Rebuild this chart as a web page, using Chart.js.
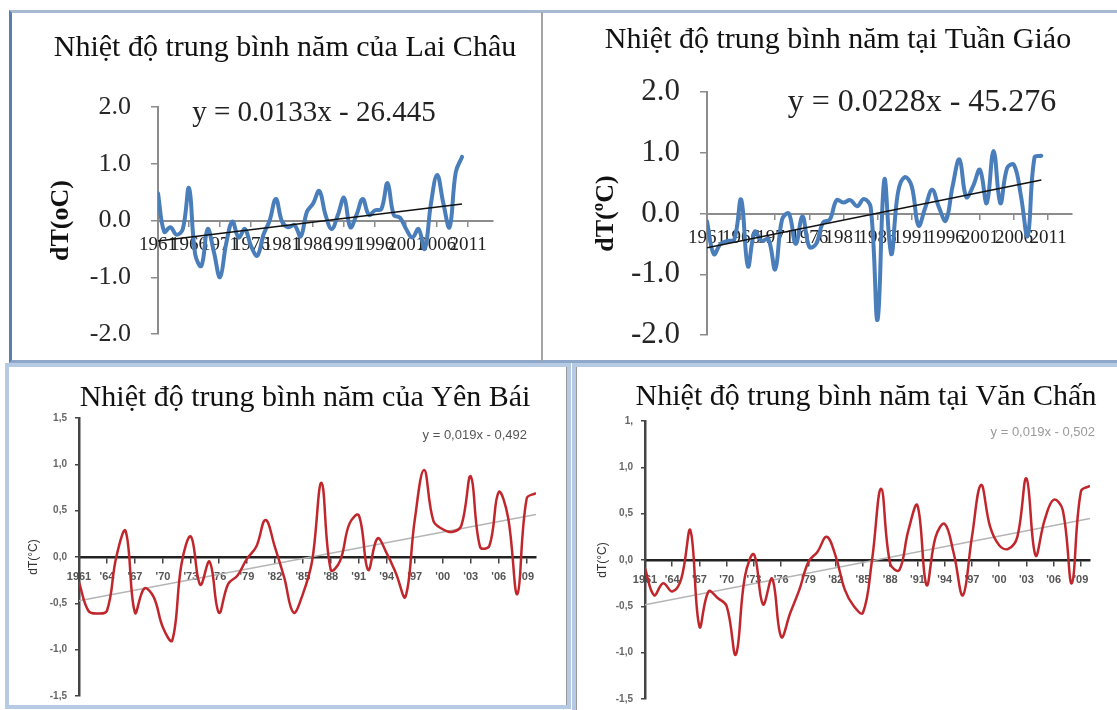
<!DOCTYPE html>
<html><head><meta charset="utf-8">
<script src="https://cdn.jsdelivr.net/npm/chart.js@4.4.1/dist/chart.umd.min.js"></script>
<style>
html,body{margin:0;padding:0;background:#fff;width:1117px;height:710px;overflow:hidden;position:relative;}
.box{position:absolute;box-sizing:border-box;}
canvas{position:absolute;}
</style></head><body>
<div class="box" style="left:9px;top:10px;width:1115px;height:353px;border-left:3px solid #5a7fb5;border-top:3px solid #a8b9d2;border-bottom:3px solid #8fa7c9;"></div>
<div class="box" style="left:541px;top:12px;width:2px;height:349px;background:#a5a5a5;"></div>
<div class="box" style="left:5px;top:363px;width:566px;height:346px;border:4px solid #b6cae3;box-shadow:inset -1px 0 0 #9a9a9a;"></div>
<div class="box" style="left:572px;top:363px;width:560px;height:352px;border:4px solid #b6cae3;box-shadow:inset 1px 0 0 #9a9a9a;"></div>
<canvas id="c1" width="529" height="348" style="left:12px;top:13px"></canvas>
<canvas id="c2" width="574" height="348" style="left:543px;top:13px"></canvas>
<canvas id="c3" width="555" height="340" style="left:10px;top:368px"></canvas>
<canvas id="c4" width="540" height="342" style="left:577px;top:368px"></canvas>
<script>
// ---------- data ----------
const years = [1961,1962,1963,1964,1965,1966,1967,1968,1969,1970,1971,1972,1973,1974,1975,1976,1977,1978,1979,1980,1981,1982,1983,1984,1985,1986,1987,1988,1989,1990,1991,1992,1993,1994,1995,1996,1997,1998,1999,2000,2001,2002,2003,2004,2005,2006,2007,2008,2009,2010];

const laiChau = [0.48,-0.2,-0.12,-0.25,-0.15,0.57,-0.6,-0.8,-0.15,-0.55,-1.0,-0.4,-0.02,-0.3,-0.15,-0.45,-0.62,-0.25,0.0,0.38,-0.02,-0.12,-0.08,-0.28,0.15,0.3,0.52,0.1,-0.15,0.1,0.4,-0.12,0.1,0.38,0.1,0.18,0.2,0.66,0.1,0.05,-0.15,-0.3,-0.15,-0.5,0.3,0.8,0.3,-0.12,0.85,1.12];
const tuanGiao = [-0.13,-0.67,-0.5,-0.45,-0.43,0.23,-0.87,-0.3,-0.45,-0.42,-0.92,-0.1,0.0,-0.5,-0.05,-0.55,-0.5,-0.15,-0.1,0.22,0.18,0.22,0.12,0.24,0.1,-1.75,0.56,-0.67,0.35,0.6,0.45,-0.2,0.1,0.39,0.1,-0.12,0.45,0.89,0.27,0.45,0.72,0.17,1.03,0.17,0.75,0.8,0.3,-0.37,0.92,0.95];
const yenBai = [-0.27,-0.58,-0.61,-0.58,0.0,0.28,-0.6,-0.34,-0.43,-0.76,-0.9,-0.07,0.22,-0.3,-0.05,-0.6,-0.29,-0.2,-0.02,0.11,0.4,0.11,-0.22,-0.6,-0.4,-0.04,0.8,-0.14,-0.04,0.36,0.45,-0.14,0.2,0.04,-0.18,-0.43,0.4,0.94,0.39,0.3,0.27,0.34,0.87,0.11,0.12,0.7,0.43,-0.4,0.63,0.69];
const vanChan = [-0.09,-0.38,-0.25,-0.34,-0.2,0.32,-0.72,-0.34,-0.41,-0.5,-1.02,-0.18,0.06,-0.48,-0.2,-0.83,-0.57,-0.32,-0.02,0.09,0.25,0.04,-0.32,-0.5,-0.57,0.0,0.77,-0.04,-0.11,0.32,0.59,-0.27,0.25,0.39,0.07,-0.38,0.25,0.81,0.36,0.16,0.12,0.25,0.88,0.05,0.43,0.65,0.54,-0.25,0.74,0.8];

// trend line end points (first year, last year)
const trendYears = [1961, 2010];
const laiChauTrend = [-0.36, 0.29];
const tuanGiaoTrend = [-0.565, 0.552];
const yenBaiTrend = [-0.473, 0.458];
const vanChanTrend = [-0.483, 0.448];

// tick values / labels
const topXTicks = [1961,1966,1971,1976,1981,1986,1991,1996,2001,2006,2011];
const topXLabels = ['1961','1966','1971','1976','1981','1986','1991','1996','2001','2006','2011'];
const topYTicks = [-2,-1,0,1,2];
const topYLabels = ['-2.0','-1.0','0.0','1.0','2.0'];
const botXTicks = [1961,1964,1967,1970,1973,1976,1979,1982,1985,1988,1991,1994,1997,2000,2003,2006,2009];
const botXLabels = ['1961',"'64","'67","'70","'73","'76","'79","'82","'85","'88","'91","'94","'97","'00","'03","'06","'09"];
const botYTicks = [-1.5,-1,-0.5,0,0.5,1,1.5];
const yenBaiYLabels = ['-1,5','-1,0','-0,5','0,0','0,5','1,0','1,5'];
const vanChanYLabels = ['-1,5','-1,0','-0,5','0,0','0,5','1,0','1,'];

const titles = ['Nhiệt độ trung bình năm của Lai Châu','Nhiệt độ trung bình năm tại Tuần Giáo','Nhiệt độ trung bình năm của Yên Bái','Nhiệt độ trung bình năm tại Văn Chấn'];
const equations = ['y = 0.0133x - 26.445','y = 0.0228x - 45.276','y = 0,019x - 0,492','y = 0,019x - 0,502'];

// ---------- plugin for panel texts ----------
Chart.register({
  id: 'panelText',
  afterDraw(chart, args, opts) {
    const ctx = chart.ctx;
    (opts.items || []).forEach(it => {
      ctx.save();
      ctx.font = it.font;
      ctx.fillStyle = it.color;
      ctx.textAlign = it.align || 'center';
      ctx.textBaseline = 'middle';
      ctx.fillText(it.text, it.x, it.y);
      ctx.restore();
    });
  }
});

const pts = (vals) => years.map((y, i) => ({x: y, y: vals[i]}));
const tpts = (vals) => trendYears.map((y, i) => ({x: y, y: vals[i]}));
function noPad(s) { s.paddingTop = 0; s.paddingBottom = 0; s.paddingLeft = 0; s.paddingRight = 0; }

function topChart(id, vals, trend, o) {
  return new Chart(document.getElementById(id), {
    type: 'line',
    data: { datasets: [
      { data: pts(vals), borderColor: '#4a7ebb', borderWidth: 4, tension: 0.4, pointRadius: 0, borderJoinStyle: 'round', borderCapStyle: 'round', order: 1 },
      { data: tpts(trend), borderColor: '#111', borderWidth: 1.5, tension: 0, pointRadius: 0, order: 0 }
    ]},
    options: {
      responsive: false, animation: false, devicePixelRatio: 1,
      layout: { padding: o.pad },
      plugins: { legend: {display:false}, tooltip: {enabled:false},
        panelText: { items: [
          { text: o.title, x: o.tx, y: o.ty, font: '30px "Liberation Serif"', color: '#111' },
          { text: o.eq, x: o.ex, y: o.ey, font: o.eqSize + 'px "Liberation Serif"', color: '#222' }
        ]}
      },
      scales: {
        x: {
          type: 'linear', min: 1961, max: o.xmax, position: {y: 0},
          afterFit(s) { s.height = 0; noPad(s); },
          afterBuildTicks(s) { s.ticks = topXTicks.map(v => ({value: v})); },
          ticks: { autoSkip: false, maxRotation: 0, padding: 8, color: '#222', font: {family: 'Liberation Serif', size: 19}, callback: (v, i) => topXLabels[i] },
          grid: { drawOnChartArea: false, tickLength: 5, color: '#8c8c8c', lineWidth: 1.5 },
          border: { display: true, color: '#8c8c8c', width: 2 }
        },
        y: {
          type: 'linear', min: -2, max: 2, position: 'left',
          afterFit(s) { s.width = o.yw; noPad(s); },
          afterBuildTicks(s) { s.ticks = topYTicks.map(v => ({value: v})); },
          ticks: { padding: 20, color: '#262626', font: {family: 'Liberation Serif', size: o.tickSize}, callback: (v, i) => topYLabels[i] },
          grid: { drawOnChartArea: false, tickLength: 7, color: '#8c8c8c', lineWidth: 1.5 },
          border: { display: true, color: '#8c8c8c', width: 2 },
          title: { display: true, text: o.ytitle, color: '#111', font: {family: 'Liberation Serif', size: 26, weight: 'bold'}, padding: {top: o.ytp, bottom: 0} }
        }
      }
    }
  });
}

function botChart(id, vals, trend, ylabels, o) {
  return new Chart(document.getElementById(id), {
    type: 'line',
    data: { datasets: [
      { data: pts(vals), borderColor: '#c0272d', borderWidth: 2.5, tension: 0.4, pointRadius: 0, borderJoinStyle: 'round', order: 0 },
      { data: tpts(trend), borderColor: '#b4b4b4', borderWidth: 1.5, tension: 0, pointRadius: 0, order: 1 }
    ]},
    options: {
      responsive: false, animation: false, devicePixelRatio: 1,
      layout: { padding: o.pad },
      plugins: { legend: {display:false}, tooltip: {enabled:false},
        panelText: { items: [
          { text: o.title, x: o.tx, y: o.ty, font: '30px "Liberation Serif"', color: '#111' },
          { text: o.eq, x: o.ex, y: o.ey, font: '13px "Liberation Sans"', color: o.eqColor, align: 'right' }
        ]}
      },
      scales: {
        x: {
          type: 'linear', min: 1961, max: 2010, position: {y: 0},
          afterFit(s) { s.height = 0; noPad(s); },
          afterBuildTicks(s) { s.ticks = botXTicks.map(v => ({value: v})); },
          ticks: { autoSkip: false, maxRotation: 0, padding: 8, color: '#555', font: {family: 'Liberation Sans', size: 11, weight: 'bold'}, callback: (v, i) => botXLabels[i] },
          grid: { drawOnChartArea: false, tickLength: 5, color: '#444', lineWidth: 1.5 },
          border: { display: true, color: '#222', width: 2.5 }
        },
        y: {
          type: 'linear', min: -1.5, max: 1.5, position: 'left',
          afterFit(s) { s.width = o.yw; noPad(s); },
          afterBuildTicks(s) { s.ticks = botYTicks.map(v => ({value: v})); },
          ticks: { padding: 8, color: '#666', font: {family: 'Liberation Sans', size: 10, weight: 'bold'}, callback: (v, i) => ylabels[i] },
          grid: { drawOnChartArea: false, tickLength: 4, color: '#444', lineWidth: 1.5 },
          border: { display: true, color: '#444', width: 2.5 },
          title: { display: true, text: 'dT(°C)', color: '#333', font: {family: 'Liberation Sans', size: 12}, padding: {top: o.ytp, bottom: 0} }
        }
      }
    }
  });
}

topChart('c1', laiChau, laiChauTrend, {
  pad: {left: 0, top: 94, right: 48, bottom: 27}, yw: 146, xmax: 2015, ytp: 34, tickSize: 26,
  ytitle: 'dT(oC)', title: titles[0], tx: 273, ty: 35, eq: equations[0], ex: 302, ey: 100, eqSize: 29
});
topChart('c2', tuanGiao, tuanGiaoTrend, {
  pad: {left: 0, top: 79, right: 45, bottom: 26}, yw: 164, xmax: 2014.5, ytp: 48, tickSize: 31,
  ytitle: 'dT(ºC)', title: titles[1], tx: 295, ty: 27, eq: equations[1], ex: 379, ey: 90, eqSize: 32
});
botChart('c3', yenBai, yenBaiTrend, yenBaiYLabels, {
  pad: {left: 0, top: 50, right: 29, bottom: 12}, yw: 69, ytp: 16,
  title: titles[2], tx: 295, ty: 30, eq: equations[2], ex: 517, ey: 67, eqColor: '#555'
});
botChart('c4', vanChan, vanChanTrend, vanChanYLabels, {
  pad: {left: 0, top: 53, right: 27, bottom: 11}, yw: 68, ytp: 18,
  title: titles[3], tx: 289, ty: 29, eq: equations[3], ex: 518, ey: 64, eqColor: '#9a9a9a'
});
</script>
</body></html>
